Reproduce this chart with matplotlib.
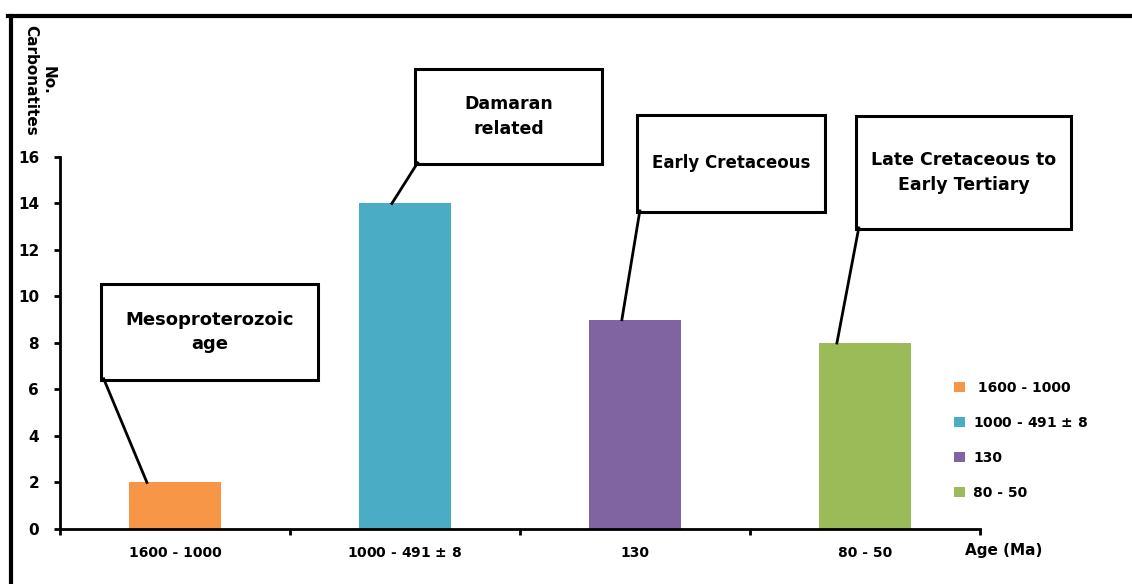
import matplotlib.pyplot as plt
from matplotlib.lines import Line2D
from matplotlib.patches import Rectangle

# Carbonatite counts per age group
age_groups = ["1600 - 1000", "1000 - 491 $\\pm$ 8", "130", "80 - 50"]
legend_labels = [" 1600 - 1000", "1000 - 491 $\\pm$ 8", "130", "80 - 50"]
counts = [2, 14, 9, 8]
colors = ["#F79646", "#4BACC6", "#8064A2", "#9BBB59"]
callouts = ["Mesoproterozoic\nage", "Damaran\nrelated", "Early Cretaceous",
            "Late Cretaceous to\nEarly Tertiary"]

plt.rcParams["font.family"] = "DejaVu Sans"
plt.rcParams["font.weight"] = "bold"
plt.rcParams["mathtext.default"] = "bf"

fig = plt.figure(figsize=(11.32, 5.84), dpi=100)
ax = fig.add_axes([0.053, 0.0942, 0.8127, 0.637])

xs = list(range(len(counts)))
bars = ax.bar(xs, counts, width=0.4, color=colors, zorder=2)

ax.set_xlim(-0.5, len(counts) - 0.5)
ax.set_ylim(0, 16)
ax.set_yticks(range(0, 17, 2))
ax.set_xticks([i - 0.5 for i in range(len(counts) + 1)])
ax.set_xticklabels([])
ax.set_xticks(xs, minor=True)
ax.set_xticklabels(age_groups, minor=True, fontsize=10, fontweight="bold")
ax.tick_params(axis="x", which="minor", length=0, pad=12)
ax.tick_params(axis="x", which="major", length=4.5, width=2, direction="out")
ax.tick_params(axis="y", length=4, width=2, direction="out", pad=11, labelsize=11)
for lbl in ax.get_yticklabels():
    lbl.set_fontweight("bold")

for side in ["top", "right"]:
    ax.spines[side].set_visible(False)
for side in ["left", "bottom"]:
    ax.spines[side].set_linewidth(2)

# Callout boxes: (x0, x1, y0, y1) in data units and anchor offset on the bar top
boxes = [(-0.322, 0.622, 6.41, 10.54), (1.043, 1.857, 15.70, 19.78),
         (2.009, 2.826, 13.63, 17.81), (2.961, 3.896, 12.90, 17.76)]
anchor_dx = [-0.122, -0.057, -0.057, -0.122]
text_sizes = [13, 12.5, 12, 12.5]
for i, (x0, x1, y0, y1) in enumerate(boxes):
    ax.add_patch(Rectangle((x0, y0), x1 - x0, y1 - y0, fill=False, lw=2.2,
                           edgecolor="black", clip_on=False, zorder=3))
    ax.text((x0 + x1) / 2, (y0 + y1) / 2, callouts[i], ha="center", va="center",
            fontsize=text_sizes[i], fontweight="bold", linespacing=1.45,
            clip_on=False)
    ax.plot([x0 + 0.012, xs[i] + anchor_dx[i]], [y0 + 0.05, counts[i]],
            color="black", lw=2, clip_on=False, zorder=3)

ax.set_ylabel("No.\nCarbonatites", rotation=270, fontsize=11, fontweight="bold",
              ha="center", va="center")
ax.yaxis.set_label_coords(-0.022, 1.205)
ax.text(1.026, -0.059, "Age (Ma)", transform=ax.transAxes, ha="center",
        va="center", fontsize=11, fontweight="bold")

fig.legend(bars, legend_labels, loc="center left", bbox_to_anchor=(0.832, 0.246),
           frameon=False, prop={"size": 10, "weight": "bold"},
           handlelength=0.75, handleheight=0.75, handletextpad=0.6,
           labelspacing=1.52)

# Outer frame on the top and left edges
fig.add_artist(Line2D([0.0093, 0.0093], [0, 0.973], color="black", lw=3,
                      transform=fig.transFigure))
fig.add_artist(Line2D([0.0075, 1.0], [0.972, 0.972], color="black", lw=3,
                      transform=fig.transFigure))

fig.savefig("out.png", dpi=100)
